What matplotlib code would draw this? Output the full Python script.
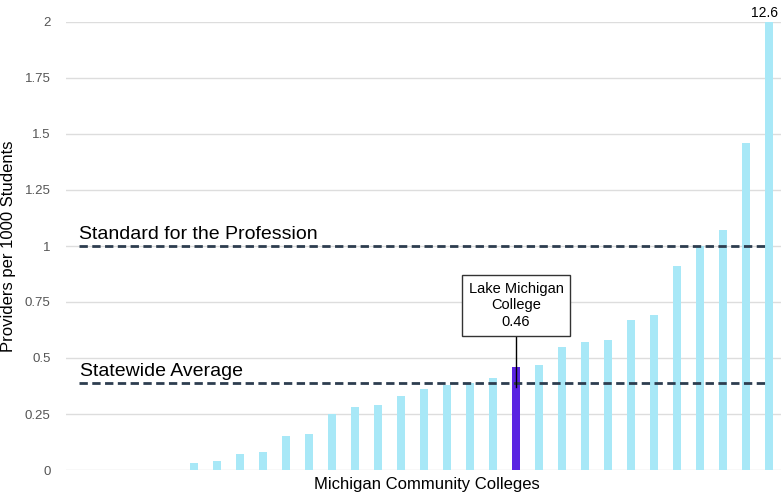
import matplotlib
matplotlib.use('Agg')
from matplotlib import pyplot as plt

# providers per 1000 students, sorted, one value per college
values = [0, 0, 0, 0, 0,
          0.03, 0.04, 0.07, 0.08, 0.15, 0.16, 0.25, 0.28, 0.29, 0.33,
          0.36, 0.38, 0.39, 0.41,
          0.46,
          0.47, 0.55, 0.57, 0.58, 0.67, 0.69, 0.91, 1.0, 1.07, 1.46, 12.6]
highlight = 19  # Lake Michigan College
statewide_avg = 0.39
standard = 1.0
yticks = [0, 0.25, 0.5, 0.75, 1, 1.25, 1.5, 1.75, 2]
ytick_labels = ['0', '0.25', '0.5', '0.75', '1', '1.25', '1.5', '1.75', '2']

plt.rcParams['font.family'] = ['Liberation Sans', 'DejaVu Sans']

fig = plt.figure(figsize=(7.81, 4.98), dpi=100)
ax = fig.add_axes([66 / 781, 28 / 498, 715 / 781, 448 / 498])

x = list(range(len(values)))
colors = ['#5a24e2' if i == highlight else '#a8e8f7' for i in x]
ax.bar(x, values, width=0.36, color=colors, zorder=2)

ax.set_xlim(-0.57, len(values) - 0.48)
ax.set_ylim(0, 2)
ax.set_yticks(yticks)
ax.set_yticklabels(ytick_labels)
ax.set_xticks([])
ax.tick_params(axis='y', length=0, pad=11, labelsize=9.5, labelcolor='#555555')
ax.grid(axis='y', color='#dddddd', lw=1, zorder=0)
for s in ax.spines.values():
    s.set_visible(False)

# reference lines
for yv in (standard, statewide_avg):
    ax.hlines(yv, 0, len(values) - 1, colors='#2d3d4f', lw=2,
              linestyles=(0, (3, 1.6)), zorder=3)
ax.text(0.0, standard + 0.012, 'Standard for the Profession', fontsize=14,
        va='bottom', ha='left')
ax.text(0.05, statewide_avg + 0.012, 'Statewide Average', fontsize=14,
        va='bottom', ha='left')

# top bar is clipped, print real value
last = len(values) - 1
ax.text(last + 0.4, 2.01, f'{values[last]:g}', ha='right', va='bottom',
        fontsize=10, clip_on=False)

# callout for Lake Michigan College
ax.plot([highlight, highlight], [0.37, 0.6], color='black', lw=1, zorder=4)
ax.text(highlight, 0.735, f'Lake Michigan\nCollege\n{values[highlight]:g}',
        ha='center', va='center', fontsize=10.5, linespacing=1.25, zorder=5,
        bbox=dict(boxstyle='square,pad=0.45', fc='white', ec='#333333', lw=1))

ax.set_ylabel('Providers per 1000 Students', fontsize=12)
ax.yaxis.set_label_coords(-0.07, 0.5)
ax.set_xlabel('Michigan Community Colleges', fontsize=12)
ax.xaxis.set_label_coords(0.505, -0.016)

fig.savefig('out.png', dpi=100)
